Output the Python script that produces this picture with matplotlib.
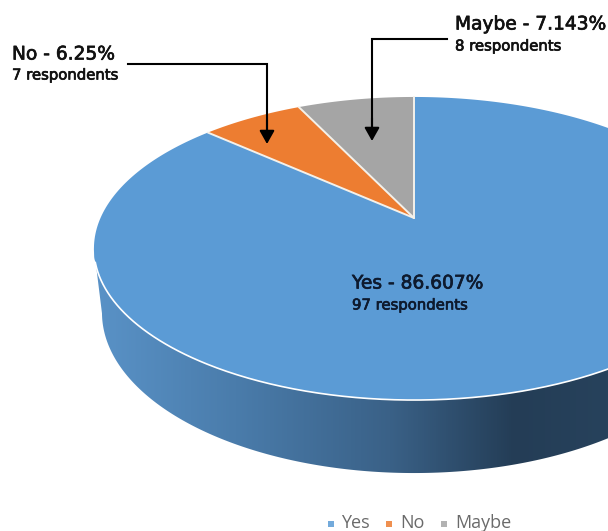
import numpy as np
import matplotlib
matplotlib.use("Agg")
import matplotlib.pyplot as plt
import matplotlib.patheffects as pe
from matplotlib.colors import LinearSegmentedColormap
from matplotlib.patches import Polygon

categories = ["Yes", "No", "Maybe"]
respondents = [97, 7, 8]
percent_labels = ["86.607%", "6.25%", "7.143%"]
colors = ["#5B9BD5", "#ED7D31", "#A5A5A5"]

plt.rcParams["font.family"] = ["DejaVu Sans"]
W, H = 608, 531
fig = plt.figure(figsize=(W / 100, H / 100), dpi=100)
ax = fig.add_axes([0, 0, 1, 1])
ax.set_xlim(0, W)
ax.set_ylim(H, 0)
ax.axis("off")

CX, CY, A, B, K = 414.0, 218.0, 313.5, 145.4, 0.2013
DEPTH, C = 64.6, 0.0247


def top(theta):
    u, v = np.sin(theta), np.cos(theta)
    w = 1 + K * v
    return CX + A * u / w, CY - B * v / w


def bottom(theta):
    u, v = np.sin(theta), np.cos(theta)
    w = 1 + C + K * v
    return CX + A * u / w, CY + (DEPTH - B * v) / w


fractions = np.array(respondents) / sum(respondents)
edges = np.concatenate([[0], np.cumsum(fractions)]) * 2 * np.pi

# Side wall with horizontal gradient (front half of the rim only)
t_front = np.linspace(1.77, 4.51, 400)
tx, ty = top(t_front)
bx, by = bottom(t_front)
wall = np.column_stack([np.concatenate([tx, bx[::-1]]), np.concatenate([ty, by[::-1]])])
cmap = LinearSegmentedColormap.from_list(
    "wall",
    [(0.0, "#27425C"), (0.18, "#243D56"), (0.42, "#3A6187"), (0.72, "#4A7CAB"), (1.0, "#5A93C8")],
)
img = ax.imshow(np.linspace(0, 1, 512)[None, :], extent=(W, 90, 480, 200), aspect="auto",
                cmap=cmap, zorder=1)
ax.set_xlim(0, W)
ax.set_ylim(H, 0)
patch = Polygon(wall, closed=True, transform=ax.transData, fc="none", ec="none")
ax.add_patch(patch)
img.set_clip_path(patch)

# Top face
for start, end, color in zip(edges[:-1], edges[1:], colors):
    t = np.linspace(start, end, 300)
    x, y = top(t)
    ax.fill(np.r_[CX, x], np.r_[CY, y], fc=color, ec="none", zorder=2)
for e in edges[:-1]:
    x, y = top(np.array([e]))
    ax.plot([CX, x[0]], [CY, y[0]], color="#F4F1EA", lw=1.4, zorder=3, solid_capstyle="round")
x, y = top(np.linspace(1.77, 4.42, 400))
ax.plot(x, y, color="white", lw=1.2, zorder=3)

# Arrows
arrow = dict(arrowstyle="-|>,head_width=0.45,head_length=0.8", color="black", lw=1.5,
             shrinkA=0, shrinkB=0)
ax.plot([128, 267, 267], [64, 64, 132], color="black", lw=1.5, zorder=4, solid_joinstyle="miter")
ax.annotate("", xy=(267, 144), xytext=(267, 120), arrowprops=arrow, zorder=5)
ax.plot([447, 372, 372], [39, 39, 128], color="black", lw=1.5, zorder=4, solid_joinstyle="miter")
ax.annotate("", xy=(372, 141), xytext=(372, 118), arrowprops=arrow, zorder=5)

# Labels
ink = {"Yes": "#0E1A2E", "No": "#111111", "Maybe": "#111111"}
pos = {"Yes": (352, 283, 305), "No": (12, 54, 75), "Maybe": (455, 24, 46)}
for cat, n, pct in zip(categories, respondents, percent_labels):
    x0, y1, y2 = pos[cat]
    for s, yy, fs in ((f"{cat} - {pct}", y1, 13.4), (f"{n} respondents", y2, 10.7)):
        ax.text(x0, yy, s, fontsize=fs, color=ink[cat], va="center", ha="left", zorder=6,
                path_effects=[pe.withStroke(linewidth=0.5, foreground=ink[cat])])

# Legend
leg_pos = [(331, 341), (389, 400), (444, 455)]
for (sx, tx0), cat, c in zip(leg_pos, categories, colors):
    ax.scatter([sx], [524], marker="s", s=24, color=c, alpha=0.85, zorder=6, linewidths=0)
    ax.text(tx0, 523, cat, fontsize=13, color="#6A6A6A", va="center", ha="left", zorder=6,
            family="Open Sans")

fig.savefig("out.png", dpi=100, facecolor="white")
